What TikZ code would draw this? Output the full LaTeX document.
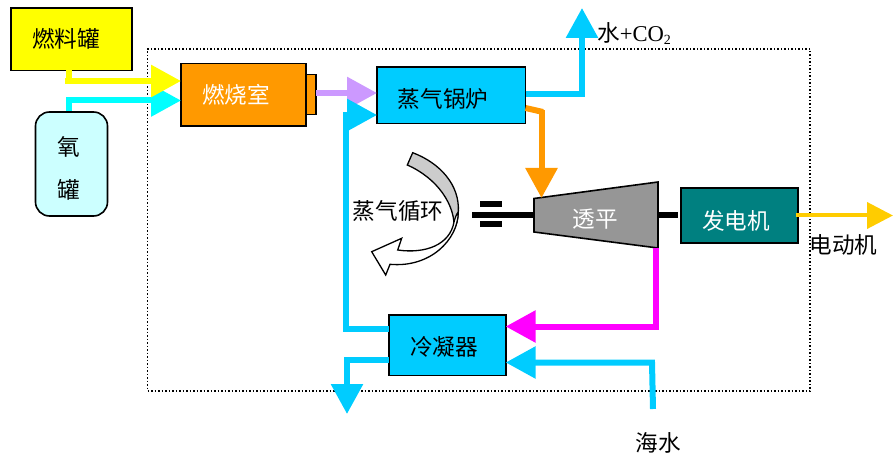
\documentclass[tikz,border=0pt]{standalone}
\usepackage{fontspec}
\setmainfont{Noto Sans CJK SC}
\newfontfamily\latinserif{Liberation Serif}
\usetikzlibrary{arrows.meta,calc}
\definecolor{cfuel}{HTML}{FFFF00}
\definecolor{ctank}{HTML}{CCFFFF}
\definecolor{corange}{HTML}{FF9900}
\definecolor{cblue}{HTML}{00CCFF}
\definecolor{ccyan}{HTML}{00FFFF}
\definecolor{cpurple}{HTML}{CC99FF}
\definecolor{cgray}{HTML}{969696}
\definecolor{cteal}{HTML}{008080}
\definecolor{cmag}{HTML}{FF00FF}
\definecolor{cgold}{HTML}{FFCC00}
\definecolor{ccurl}{HTML}{CCCCCC}
\tikzset{
  box/.style={draw=black,line width=1.6pt,inner sep=0pt,outer sep=0pt,rectangle},
  lab/.style={inner sep=0pt,font=\fontsize{22.6}{24}\selectfont,text=black},
  wlab/.style={lab,text=white},
  flow/.style={line width=6pt,line join=miter,-{Triangle[length=30pt,width=31pt]}},
  pipe/.style={line width=6pt,line join=miter},
  shaft/.style={line width=6pt,black},
}
\begin{document}
\begin{tikzpicture}[x=1pt,y=-1pt]
\useasboundingbox (0,0) rectangle (894,457);
% frame
\node[draw=black,line width=1.5pt,dotted,inner sep=0pt,minimum width=662.5pt,minimum height=342pt] (frame) at (478.75,220) {};
% boxes
\node[box,fill=cfuel,minimum width=121pt,minimum height=62.5pt] (fuel) at (71.5,39.25) {};
\node[box,fill=ctank,rounded corners=14pt,minimum width=72pt,minimum height=104pt] (tank) at (71.5,164) {};
\node[box,fill=corange,minimum width=10pt,minimum height=40pt] (nozzle) at (311,94.5) {};
\node[box,fill=corange,minimum width=125pt,minimum height=62.5pt] (comb) at (243.5,94.75) {};
\node[box,fill=cblue,minimum width=148.5pt,minimum height=56.5pt] (boiler) at (451.3,95.3) {};
\node[box,fill=cteal,minimum width=117pt,minimum height=55pt] (gen) at (739.5,215.5) {};
\node[box,fill=cblue,minimum width=117pt,minimum height=60.5pt] (cond) at (447.2,345.4) {};
% turbine
\coordinate (tTL) at (534,198.5);
\coordinate (tTR) at (658,182);
\coordinate (tBR) at (658,248);
\coordinate (tBL) at (534,232);
\coordinate (tW) at (534,215);
\coordinate (tE) at (658,215);
\coordinate (tTop) at (541.5,198);
\draw[line width=1.6pt,fill=cgray,line join=miter] (tTL)--(tTR)--(tBR)--(tBL)--cycle;
% shaft
\coordinate (shaftEnd) at (472,215);
\coordinate (genStub) at (678,215);
\coordinate (barA) at (480,204.5);
\coordinate (barB) at (502,204.5);
\coordinate (barC) at (480,224.5);
\coordinate (barD) at (502,224.5);
\draw[shaft] (shaftEnd)--(tW);
\draw[shaft] (barA)--(barB);
\draw[shaft] (barC)--(barD);
\draw[shaft] (tE)--(genStub);
% free ends and bends
\coordinate (co2) at (582,8);
\coordinate (drain) at (347,414);
\coordinate (sea) at (653,409);
\coordinate (power) at (893,215.5);
\coordinate (orangeBend) at (543,112);
% connectors
\draw[flow,ccyan] ([xshift=-2.5pt,yshift=1pt]tank.north) |- (comb.west |- 0,100.5);
\draw[pipe,cfuel] ([xshift=-3pt]fuel.south) -- ++(0,14);
\draw[flow,cfuel] (65,81) -- (comb.west |- 0,81);
\draw[flow,cpurple] (nozzle.east) ++(0,-1.5) -- ++(61,0);
\draw[flow,cblue] ([yshift=16.4pt]cond.west) -| (346,115) -- (boiler.west |- 0,115);
\draw[flow,cblue] (boiler.east |- 0,94.5) -| (co2);
\draw[pipe,corange] (boiler.east |- 0,108) -- (orangeBend);
\draw[flow,corange] (541.5,110) -- (tTop);
\draw[flow,cmag] (tBR) ++(-2.5,0) |- (cond.east |- 0,326.5);
\draw[flow,cblue] (cond.west |- 0,360) -| (drain);
\draw[flow,cblue] (sea) -- (652,362.5) -- (cond.east |- 0,362.5);
\draw[line width=4pt,cgold,-{Triangle[length=26pt,width=26pt]}] ([xshift=-2pt]gen.east) -- (power);
% curved arrow
\draw[line width=1.3pt,fill=ccurl,line join=miter]
  (412.7,152.7) .. controls (440,163) and (460,185) .. (458.3,212)
  .. controls (458,220) and (456,226) .. (454,230)
  .. controls (456,205) and (437,178) .. (407.3,165) -- cycle;
\draw[line width=1.3pt,fill=white,line join=miter]
  (458.3,212) .. controls (458,240) and (430,268) .. (390,264.3)
  -- (385.7,275) -- (371.7,251.7) -- (401.7,238.3) -- (397.7,250)
  .. controls (425,254) and (450,245) .. (454,222)
  .. controls (455,218) and (456.5,214) .. (458.3,212) -- cycle;
% labels
\node[lab] (tFuel) at (66,39) {燃料罐};
\node[lab] (tO) at (69,147) {氧};
\node[lab] (tG) at (69,190) {罐};
\node[wlab] (tComb) at (236,95) {燃烧室};
\node[lab] (tBoil) at (443,99) {蒸气锅炉};
\node[lab] (tCycle) at (398,211) {蒸气循环};
\node[wlab] (tTurb) at (595,219) {透平};
\node[wlab] (tGen) at (736,221) {发电机};
\node[lab] (tCond) at (444,347) {冷凝器};
\node[lab] (tSea) at (658,443) {海水};
\node[lab] (tPower) at (843.5,245) {电动机};
\node[lab,anchor=west] (tCO) at (597,34) {水{\latinserif +CO\raisebox{-3pt}{\fontsize{14}{14}\selectfont 2}}};
\end{tikzpicture}
\end{document}
